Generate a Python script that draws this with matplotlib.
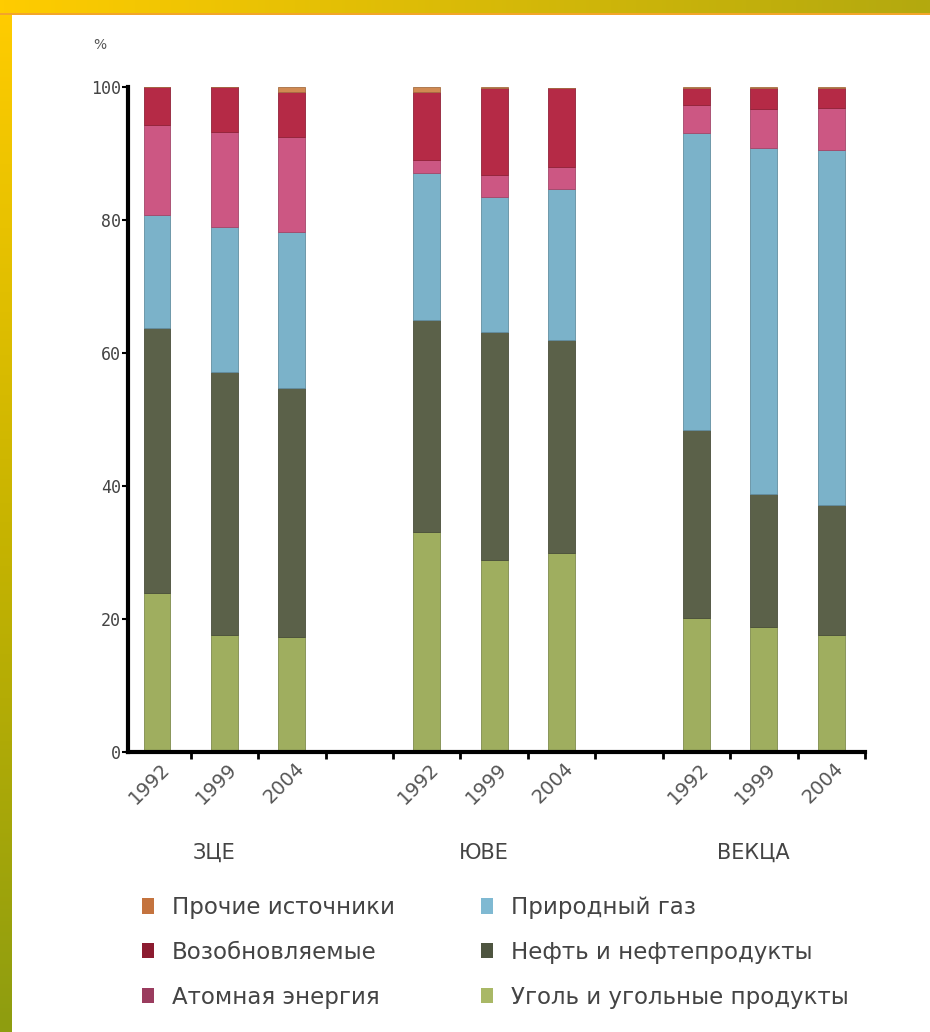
import numpy as np
import matplotlib
matplotlib.use("Agg")
import matplotlib.pyplot as plt
from matplotlib.patches import Patch
from matplotlib.transforms import ScaledTranslation

# data, shares in %
regions = ['ЗЦЕ', 'ЮВЕ', 'ВЕКЦА']
years = ['1992', '1999', '2004']
coal = [23.9, 17.6, 17.3, 33.1, 28.9, 29.9, 20.2, 18.8, 17.6]
oil = [39.9, 39.5, 37.4, 31.9, 34.3, 32.1, 28.2, 20.0, 19.5]
gas = [17.0, 21.9, 23.5, 22.1, 20.2, 22.7, 44.7, 52.1, 53.4]
nuclear = [13.5, 14.3, 14.3, 1.9, 3.4, 3.2, 4.2, 5.8, 6.3]
renew = [5.7, 6.7, 6.8, 10.2, 13.0, 11.9, 2.5, 3.1, 3.0]
other = [0.0, 0.0, 0.7, 0.8, 0.2, 0.0, 0.2, 0.2, 0.2]

labels = ['Уголь и угольные продукты', 'Нефть и нефтепродукты', 'Природный газ',
          'Атомная энергия', 'Возобновляемые', 'Прочие источники']
bar_colors = ['#9fae5f', '#5b6149', '#7bb2c9', '#cc5783', '#b52a46', '#d08a52']
legend_colors = ['#a9b866', '#4e5540', '#7fb9d2', '#9a3c5e', '#8c1b30', '#c4733e']

W, H = 930, 1032
fig = plt.figure(figsize=(W / 100, H / 100), dpi=100)
fig.patch.set_facecolor('white')

# yellow frame of the slide
top = fig.add_axes([0, 1 - 13 / H, 1, 13 / H])
top.imshow(np.linspace(0, 1, 256)[None, :], aspect='auto',
           cmap=matplotlib.colors.LinearSegmentedColormap.from_list('t', ['#ffcc00', '#b3a90f']))
top.axis('off')
left = fig.add_axes([0, 0, 11 / W, 1 - 13 / H])
left.imshow(np.linspace(0, 1, 256)[:, None], aspect='auto',
            cmap=matplotlib.colors.LinearSegmentedColormap.from_list('l', ['#ffcc00', '#c8b400', '#8e9d10']))
left.axis('off')
line = fig.add_axes([0, 1 - 15 / H, 1, 2 / H])
line.set_facecolor('#f3a52a')
line.set_xticks([])
line.set_yticks([])
for s in line.spines.values():
    s.set_visible(False)

ax = fig.add_axes([128 / W, 1 - 752 / H, 737 / W, 665 / H])
pos = np.array([0, 1, 2, 4, 5, 6, 8, 9, 10])
series = [coal, oil, gas, nuclear, renew, other]
bottom = np.zeros(len(pos))
for vals, col in zip(series, bar_colors):
    ax.bar(pos, vals, bottom=bottom, width=0.4, color=col,
           edgecolor=matplotlib.colors.to_hex(np.array(matplotlib.colors.to_rgb(col)) * 0.8),
           linewidth=0.6)
    bottom += np.array(vals)

ax.set_xlim(-0.43, 10.5)
ax.set_ylim(0, 100)
for s in ['top', 'right']:
    ax.spines[s].set_visible(False)
ax.spines['left'].set_linewidth(3)
ax.spines['bottom'].set_linewidth(3)

ax.set_yticks([0, 20, 40, 60, 80, 100])
ax.tick_params(axis='y', length=4, width=1.5, pad=1, labelsize=12, labelcolor='#444444')
for t in ax.get_yticklabels():
    t.set_family('DejaVu Sans Mono')

ax.set_xticks(pos)
ax.set_xticklabels(years * 3, rotation=45, fontsize=14, color='#555555')
ax.set_xticks(np.arange(0.5, 11, 1), minor=True)
ax.tick_params(axis='x', which='major', length=0, pad=5)
ax.tick_params(axis='x', which='minor', length=5, width=2)
for t in ax.get_xticklabels():
    t.set_transform(t.get_transform() + ScaledTranslation(-0.08, 0, fig.dpi_scale_trans))

for i, r in enumerate(regions):
    ax.text(pos[3 * i + 1] - 0.15, -0.152, r, transform=ax.get_xaxis_transform(),
            ha='center', va='center', fontsize=15, color='#444444')

fig.text(100 / W, 1 - 45 / H, '%', fontsize=10, color='#555555', ha='center', va='center')

order = [5, 4, 3, 2, 1, 0]
handles = [Patch(facecolor=legend_colors[i], edgecolor='none') for i in order]
fig.legend(handles, [labels[i] for i in order], ncol=2, loc='upper left',
           bbox_to_anchor=(142 / W, 1 - 896 / H), frameon=False, fontsize=16.5,
           labelcolor='#444444', handlelength=0.52, handleheight=0.65,
           handletextpad=0.8, labelspacing=0.95, columnspacing=3.75,
           borderpad=0, borderaxespad=0)

fig.savefig('out.png', dpi=100, facecolor='white')
